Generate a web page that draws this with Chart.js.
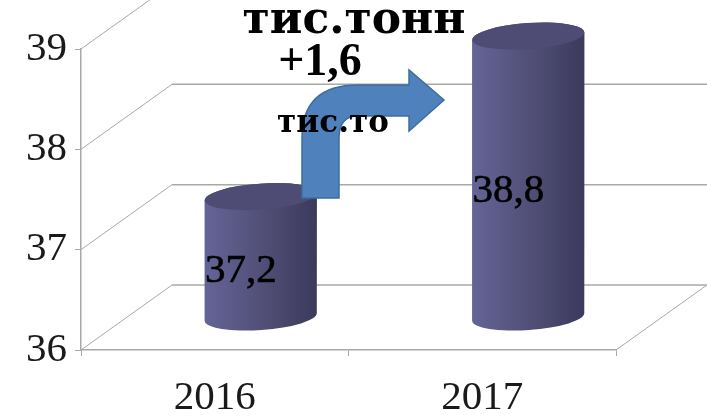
<!DOCTYPE html>
<html>
<head>
<meta charset="utf-8">
<script src="https://cdn.jsdelivr.net/npm/chart.js@4"></script>
<style>
html, body { margin: 0; padding: 0; background: #fff; }
canvas { display: block; }
</style>
</head>
<body>
<canvas id="chart" width="707" height="417"></canvas>
<script>
const years = ['2016', '2017'];
const volumes = [37.2, 38.8];
const yMin = 36;
const yMax = 39;
const titleLine = 'тис.тонн';
const deltaLine = '+1,6';
const deltaUnit = 'тис.то';

const serif = '"Liberation Serif", serif';
const wideSerif = '"DejaVu Serif", serif';
const gridColor = '#a8a8a8';
// depth of the fake 3d box
const backDx = 91, backDy = -65;
const midDx = 46, midDy = -33;

function cylinderGradient(ctx, left, right) {
    const g = ctx.createLinearGradient(left, 0, right, 0);
    g.addColorStop(0, '#646497');
    g.addColorStop(0.5, '#525078');
    g.addColorStop(1, '#3b3a5b');
    return g;
}

// walls and floor behind the bars
function drawBox(chart) {
    const ctx = chart.ctx;
    const y = chart.scales.y;
    const area = chart.chartArea;
    ctx.save();
    ctx.strokeStyle = gridColor;
    for (let v = yMin; v <= yMax; v++) {
        const py = y.getPixelForValue(v);
        ctx.lineWidth = 1;
        ctx.beginPath();
        ctx.moveTo(area.left, py);
        ctx.lineTo(area.left + backDx, py + backDy);
        ctx.stroke();
        ctx.lineWidth = 1.5;
        ctx.beginPath();
        ctx.moveTo(area.left + backDx, py + backDy);
        ctx.lineTo(area.right + backDx, py + backDy);
        ctx.stroke();
    }
    ctx.lineWidth = 1;
    ctx.beginPath();
    ctx.moveTo(area.right, area.bottom);
    ctx.lineTo(area.right + backDx, area.bottom + backDy);
    ctx.stroke();
    ctx.restore();
}

function drawCylinders(chart) {
    const ctx = chart.ctx;
    const bars = chart.getDatasetMeta(0).data;
    const floor = chart.scales.y.getPixelForValue(yMin);
    const ry = 13, tilt = -4 * Math.PI / 180;
    bars.forEach(function (bar) {
        const cx = bar.x + midDx;
        const top = bar.y + midDy;
        const base = floor + midDy;
        const rx = bar.width / 2;
        const lift = rx * Math.sin(tilt);
        ctx.save();
        ctx.fillStyle = cylinderGradient(ctx, cx - rx, cx + rx);
        ctx.beginPath();
        ctx.moveTo(cx - rx, top - lift);
        ctx.lineTo(cx - rx, base - lift);
        ctx.ellipse(cx, base, rx, ry, tilt, Math.PI, 0, true);
        ctx.lineTo(cx + rx, top + lift);
        ctx.ellipse(cx, top, rx, ry, tilt, 0, Math.PI, true);
        ctx.closePath();
        ctx.fill();
        ctx.fillStyle = '#4e4c74';
        ctx.beginPath();
        ctx.ellipse(cx, top, rx, ry, tilt, 0, Math.PI * 2);
        ctx.fill();
        ctx.restore();
    });
}

function drawArrow(ctx) {
    ctx.save();
    ctx.fillStyle = '#4f81bd';
    ctx.strokeStyle = '#3d6d9f';
    ctx.lineWidth = 1.5;
    ctx.beginPath();
    ctx.moveTo(302, 198);
    ctx.lineTo(302, 138);
    ctx.quadraticCurveTo(302, 85, 358, 85);
    ctx.lineTo(409, 85);
    ctx.lineTo(409, 70);
    ctx.lineTo(444, 100);
    ctx.lineTo(409, 131);
    ctx.lineTo(409, 116);
    ctx.lineTo(358, 116);
    ctx.quadraticCurveTo(339, 116, 339, 138);
    ctx.lineTo(339, 198);
    ctx.closePath();
    ctx.fill();
    ctx.stroke();
    ctx.restore();
}

function drawTexts(chart) {
    const ctx = chart.ctx;
    const floor = chart.scales.y.getPixelForValue(yMin);
    ctx.save();
    ctx.fillStyle = '#000';
    ctx.strokeStyle = '#000';
    ctx.lineWidth = 0.6;
    ctx.textAlign = 'center';
    ctx.textBaseline = 'alphabetic';
    // values sit low and to the left on the cylinders
    ctx.font = '41px ' + serif;
    chart.getDatasetMeta(0).data.forEach(function (bar, i) {
        const label = String(volumes[i]).replace('.', ',');
        const tx = bar.x + midDx - 20;
        const ty = (bar.y + floor) / 2 + midDy + 25;
        ctx.fillText(label, tx, ty);
        ctx.strokeText(label, tx, ty);
    });
    ctx.font = 'bold 44px ' + wideSerif;
    ctx.fillText(titleLine, 354, 33);
    ctx.font = 'bold 46px ' + serif;
    ctx.fillText(deltaLine, 320, 75);
    ctx.font = 'bold 31px ' + wideSerif;
    ctx.fillText(deltaUnit, 333, 132);
    ctx.restore();
}

const box3d = {
    id: 'box3d',
    beforeDatasetsDraw: drawBox,
    afterDatasetsDraw: function (chart) {
        drawCylinders(chart);
        drawArrow(chart.ctx);
        drawTexts(chart);
    }
};

new Chart(document.getElementById('chart'), {
    type: 'bar',
    data: {
        labels: years,
        datasets: [{
            data: volumes,
            backgroundColor: 'rgba(0,0,0,0)',
            barPercentage: 0.7,
            categoryPercentage: 0.6
        }]
    },
    options: {
        responsive: false,
        animation: false,
        layout: { padding: { top: 49, right: 91 } },
        plugins: { legend: { display: false }, tooltip: { enabled: false } },
        scales: {
            x: {
                border: { color: gridColor, width: 1.5 },
                grid: { drawOnChartArea: false, color: gridColor, tickLength: 6, offset: true },
                ticks: { color: '#1a1a1a', font: { family: serif, size: 41 }, padding: 18 },
                afterFit: function (scale) { scale.height = 67; }
            },
            y: {
                min: yMin,
                max: yMax,
                border: { color: gridColor, width: 1.5 },
                grid: { drawOnChartArea: false, color: gridColor, tickLength: 6 },
                ticks: { stepSize: 1, color: '#1a1a1a', font: { family: serif, size: 41 }, padding: 8 },
                afterFit: function (scale) { scale.width = 81; }
            }
        }
    },
    plugins: [box3d]
});
</script>
</body>
</html>
